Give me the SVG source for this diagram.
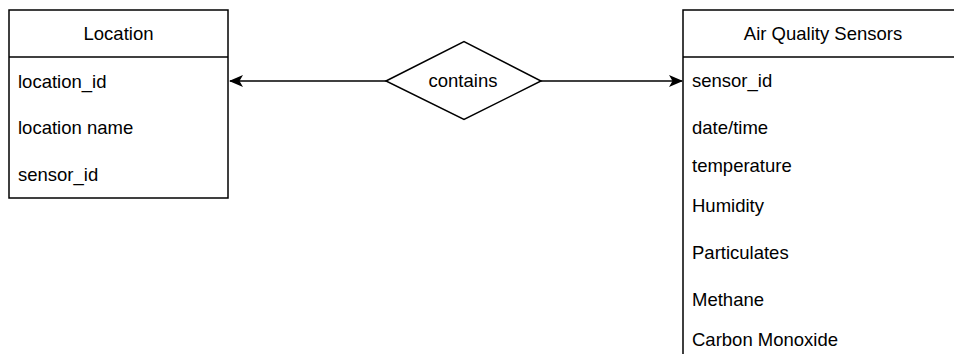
<svg xmlns="http://www.w3.org/2000/svg" width="954" height="354" viewBox="0 0 954 354">
<style>
.box{fill:#fff;stroke:#000;stroke-width:1.5}
.t{font-family:"Liberation Sans",Arial,sans-serif;font-size:18.5px;fill:#000}
.c{text-anchor:middle}
.edge{fill:none;stroke:#000;stroke-width:1.5}
</style>
<defs>
<marker id="arr" viewBox="0 0 14 12" refX="13" refY="6" markerWidth="14" markerHeight="12" markerUnits="userSpaceOnUse" orient="auto">
<path d="M0,0 L14,6 L0,12 L3.5,6 Z" fill="#000"/>
</marker>
</defs>
<rect width="954" height="354" fill="#fff"/>
<g id="connectors">
<line class="edge" x1="386" y1="81" x2="230" y2="81" marker-end="url(#arr)"/>
<line class="edge" x1="541" y1="81" x2="682" y2="81" marker-end="url(#arr)"/>
</g>
<g id="location">
<rect class="box" x="9" y="10" width="219" height="188"/>
<line class="edge" x1="9" y1="57" x2="228" y2="57"/>
<text class="t c" x="118.5" y="40">Location</text>
<text class="t" x="18" y="87.5">location_id</text>
<text class="t" x="18" y="134">location name</text>
<text class="t" x="18" y="180.5">sensor_id</text>
</g>
<g id="contains">
<polygon class="box" points="386,81 464,41.5 541,81 464,119.5"/>
<text class="t c" x="463" y="87">contains</text>
</g>
<g id="sensors">
<rect class="box" x="683" y="10" width="300" height="360"/>
<line class="edge" x1="683" y1="57" x2="954" y2="57"/>
<text class="t c" x="823" y="40">Air Quality Sensors</text>
<text class="t" x="692" y="87">sensor_id</text>
<text class="t" x="692" y="134">date/time</text>
<text class="t" x="692" y="172">temperature</text>
<text class="t" x="692" y="212">Humidity</text>
<text class="t" x="692" y="259">Particulates</text>
<text class="t" x="692" y="306">Methane</text>
<text class="t" x="692" y="345.5">Carbon Monoxide</text>
</g>
</svg>
